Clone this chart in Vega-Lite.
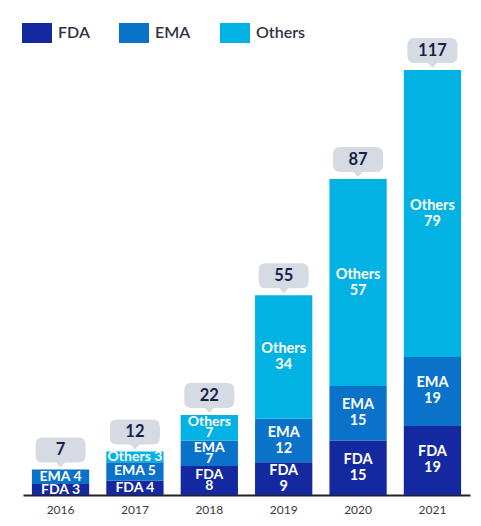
{
  "$schema": "https://vega.github.io/schema/vega-lite/v6.json",
  "width": 447,
  "height": 454,
  "autosize": {"type": "none"},
  "padding": {"left": 23, "top": 41, "right": 11, "bottom": 31},
  "background": "white",
  "config": {
    "view": {"stroke": null},
    "font": "Lato"
  },
  "datasets": {
    "segments": [
      {"year": "2016", "series": "FDA", "value": 3, "label": "FDA 3"},
      {"year": "2016", "series": "EMA", "value": 4, "label": "EMA 4"},
      {"year": "2017", "series": "FDA", "value": 4, "label": "FDA 4"},
      {"year": "2017", "series": "EMA", "value": 5, "label": "EMA 5"},
      {"year": "2017", "series": "Others", "value": 3, "label": "Others 3"},
      {"year": "2018", "series": "FDA", "value": 8, "label": "FDA\n8"},
      {"year": "2018", "series": "EMA", "value": 7, "label": "EMA\n7"},
      {"year": "2018", "series": "Others", "value": 7, "label": "Others\n7"},
      {"year": "2019", "series": "FDA", "value": 9, "label": "FDA\n9"},
      {"year": "2019", "series": "EMA", "value": 12, "label": "EMA\n12"},
      {"year": "2019", "series": "Others", "value": 34, "label": "Others\n34"},
      {"year": "2020", "series": "FDA", "value": 15, "label": "FDA\n15"},
      {"year": "2020", "series": "EMA", "value": 15, "label": "EMA\n15"},
      {"year": "2020", "series": "Others", "value": 57, "label": "Others\n57"},
      {"year": "2021", "series": "FDA", "value": 19, "label": "FDA\n19"},
      {"year": "2021", "series": "EMA", "value": 19, "label": "EMA\n19"},
      {"year": "2021", "series": "Others", "value": 79, "label": "Others\n79"}
    ],
    "totals": [
      {"year": "2016", "total": 7},
      {"year": "2017", "total": 12},
      {"year": "2018", "total": 22},
      {"year": "2019", "total": 55},
      {"year": "2020", "total": 87},
      {"year": "2021", "total": 117}
    ]
  },
  "layer": [
    {
      "data": {"name": "segments"},
      "transform": [
        {"calculate": "indexof(['FDA','EMA','Others'], datum.series)", "as": "ord"},
        {"stack": "value", "groupby": ["year"], "sort": [{"field": "ord"}], "as": ["v0", "v1"]}
      ],
      "mark": {"type": "bar"},
      "encoding": {
        "x": {
          "field": "year", "type": "nominal", "title": null,
          "scale": {"paddingInner": 0.23, "paddingOuter": 0.12},
          "axis": {
            "labelAngle": 0, "ticks": false, "tickSize": 0, "labelPadding": 9,
            "labelFontSize": 12, "labelColor": "#3a3a3a", "labelFont": "Lato", "labelFontWeight": "normal",
            "domainColor": "#222222", "domainWidth": 2, "grid": false
          }
        },
        "y": {
          "field": "v0", "type": "quantitative",
          "scale": {"domain": [0, 125], "nice": false},
          "axis": null
        },
        "y2": {"field": "v1"},
        "color": {
          "field": "series", "type": "nominal",
          "scale": {"domain": ["FDA", "EMA", "Others"], "range": ["#1428A0", "#0A72C8", "#02B2E3"]},
          "legend": {
            "title": null, "orient": "none", "direction": "horizontal",
            "legendX": -1, "legendY": -18,
            "symbolType": "M -1 -1 L 2 -1 L 2 1 L -1 1 Z",
            "symbolSize": 400, "symbolStrokeWidth": 0, "symbolOpacity": 1,
            "labelOffset": 16, "labelFontSize": 16, "labelColor": "#2e3244",
            "labelFont": "Lato", "labelFontWeight": 600,
            "columnPadding": 29
          }
        }
      }
    },
    {
      "data": {"name": "segments"},
      "transform": [
        {"calculate": "indexof(['FDA','EMA','Others'], datum.series)", "as": "ord"},
        {"stack": "value", "groupby": ["year"], "sort": [{"field": "ord"}], "as": ["v0", "v1"]},
        {"calculate": "(datum.v0 + datum.v1) / 2", "as": "mid"},
        {"filter": "datum.year == '2016' || datum.year == '2017'"}
      ],
      "mark": {"type": "text", "color": "white", "fontWeight": "bold", "fontSize": 14, "baseline": "middle", "align": "center", "font": "Lato"},
      "encoding": {
        "x": {"field": "year", "type": "nominal"},
        "y": {"field": "mid", "type": "quantitative"},
        "text": {"field": "label"}
      }
    },
    {
      "data": {"name": "segments"},
      "transform": [
        {"calculate": "indexof(['FDA','EMA','Others'], datum.series)", "as": "ord"},
        {"stack": "value", "groupby": ["year"], "sort": [{"field": "ord"}], "as": ["v0", "v1"]},
        {"calculate": "(datum.v0 + datum.v1) / 2", "as": "mid"},
        {"filter": "datum.year == '2018'"}
      ],
      "mark": {"type": "text", "color": "white", "fontWeight": "bold", "fontSize": 14, "baseline": "middle", "align": "center", "font": "Lato", "lineBreak": "\n", "lineHeight": 11, "dy": -5.5},
      "encoding": {
        "x": {"field": "year", "type": "nominal"},
        "y": {"field": "mid", "type": "quantitative"},
        "text": {"field": "label"}
      }
    },
    {
      "data": {"name": "segments"},
      "transform": [
        {"calculate": "indexof(['FDA','EMA','Others'], datum.series)", "as": "ord"},
        {"stack": "value", "groupby": ["year"], "sort": [{"field": "ord"}], "as": ["v0", "v1"]},
        {"calculate": "(datum.v0 + datum.v1) / 2", "as": "mid"},
        {"filter": "toNumber(datum.year) >= 2019"}
      ],
      "mark": {"type": "text", "color": "white", "fontWeight": "bold", "fontSize": 14.5, "baseline": "middle", "align": "center", "font": "Lato", "lineBreak": "\n", "lineHeight": 16, "dy": -8},
      "encoding": {
        "x": {"field": "year", "type": "nominal"},
        "y": {"field": "mid", "type": "quantitative"},
        "text": {"field": "label"}
      }
    },
    {
      "data": {"name": "totals"},
      "mark": {
        "type": "point", "filled": true, "fill": "#D5DAE3", "opacity": 1, "strokeWidth": 0,
        "size": 2500, "yOffset": -19.5,
        "shape": "M -0.72 -0.5 L 0.72 -0.5 Q 1 -0.5 1 -0.22 L 1 0.22 Q 1 0.5 0.72 0.5 L 0.18 0.5 L 0 0.7 L -0.18 0.5 L -0.72 0.5 Q -1 0.5 -1 0.22 L -1 -0.22 Q -1 -0.5 -0.72 -0.5 Z"
      },
      "encoding": {
        "x": {"field": "year", "type": "nominal"},
        "y": {"field": "total", "type": "quantitative"}
      }
    },
    {
      "data": {"name": "totals"},
      "mark": {"type": "text", "fontWeight": "bold", "fontSize": 16.5, "color": "#1C1F4A", "baseline": "middle", "align": "center", "yOffset": -19.5, "font": "Lato"},
      "encoding": {
        "x": {"field": "year", "type": "nominal"},
        "y": {"field": "total", "type": "quantitative"},
        "text": {"field": "total", "type": "quantitative"}
      }
    }
  ]
}
